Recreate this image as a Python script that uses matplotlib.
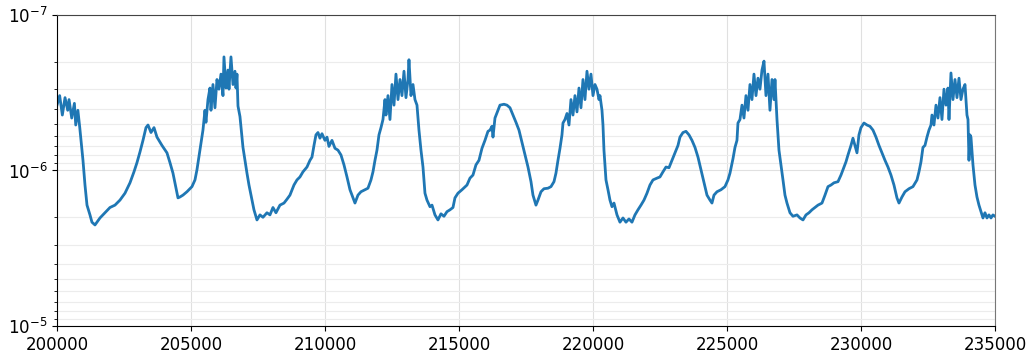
import numpy as np
import matplotlib
matplotlib.use('Agg')
import matplotlib.pyplot as plt

# sample index and measured level
steps = [
    200000, 200100, 200200, 200300, 200400, 200450, 200550, 200650, 200700, 200780,
    200850, 200970, 201045, 201120, 201231, 201305, 201418, 201490, 201604, 201790,
    201977, 202164, 202351, 202537, 202724, 202873, 202985, 203097, 203209, 203321,
    203396, 203508, 203620, 203731, 203918, 204104, 204216, 204328, 204440, 204515,
    204590, 204701, 204850, 205037, 205149, 205223, 205335, 205447, 205522, 205559,
    205634, 205708, 205746, 205820, 205895, 205970, 206044, 206119, 206194, 206231,
    206306, 206380, 206418, 206492, 206567, 206641, 206679, 206716, 206754, 206828,
    206940, 207015, 207089, 207164, 207276, 207350, 207462, 207574, 207686, 207835,
    207947, 208059, 208171, 208320, 208470, 208582, 208693, 208843, 208955, 209067,
    209179, 209328, 209440, 209515, 209590, 209664, 209739, 209813, 209888, 210000,
    210075, 210149, 210261, 210373, 210485, 210597, 210709, 210821, 210933, 211045,
    211119, 211231, 211343, 211492, 211604, 211716, 211791, 211866, 211940, 212015,
    212090, 212164, 212239, 212276, 212351, 212425, 212500, 212575, 212649, 212724,
    212799, 212873, 212948, 213022, 213097, 213134, 213209, 213284, 213358, 213433,
    213507, 213582, 213657, 213731, 213806, 213918, 213993, 214104, 214216, 214328,
    214440, 214552, 214664, 214776, 214850, 214962, 215112, 215299, 215410, 215522,
    215634, 215746, 215858, 215970, 216082, 216157, 216231, 216269, 216343, 216455,
    216530, 216679, 216791, 216903, 217015, 217127, 217239, 217351, 217463, 217575,
    217687, 217761, 217873, 217948, 218060, 218172, 218321, 218433, 218545, 218619,
    218694, 218769, 218843, 218881, 218955, 219030, 219105, 219179, 219254, 219328,
    219403, 219478, 219552, 219627, 219701, 219776, 219851, 219925, 220000, 220075,
    220149, 220224, 220261, 220336, 220373, 220410, 220485, 220560, 220634, 220709,
    220784, 220896, 221007, 221119, 221231, 221343, 221455, 221567, 221679, 221791,
    221903, 222015, 222127, 222239, 222388, 222500, 222612, 222724, 222836, 222948,
    223060, 223172, 223246, 223358, 223470, 223582, 223694, 223806, 223918, 224030,
    224142, 224254, 224366, 224440, 224515, 224627, 224776, 224925, 225037, 225112,
    225224, 225299, 225373, 225410, 225485, 225560, 225634, 225709, 225784, 225858,
    225933, 226007, 226082, 226157, 226231, 226306, 226381, 226455, 226530, 226604,
    226679, 226754, 226791, 226866, 226940, 227015, 227090, 227164, 227239, 227351,
    227463, 227612, 227724, 227836, 227948, 228060, 228172, 228284, 228396, 228545,
    228657, 228769, 228881, 228993, 229142, 229254, 229328, 229440, 229515, 229627,
    229701, 229776, 229851, 229925, 230000, 230112, 230224, 230336, 230448, 230560,
    230672, 230784, 230896, 231007, 231119, 231231, 231343, 231418, 231530, 231642,
    231791, 231940, 232090, 232164, 232239, 232313, 232388, 232463, 232537, 232612,
    232649, 232724, 232799, 232873, 232948, 233022, 233097, 233172, 233246, 233284,
    233358, 233433, 233508, 233582, 233657, 233731, 233806, 233881, 233955, 233993,
    234030, 234067, 234104, 234179, 234254, 234328, 234403, 234478, 234552, 234627,
    234701, 234776, 234851, 234925, 235000,
]
level = [
    3.8e-7, 3.3e-7, 4.4e-7, 3.4e-7, 4.1e-7, 3.5e-7, 4.6e-7, 3.7e-7, 5.1e-7, 4.1e-7,
    5.3e-7, 8.6e-7, 1.24e-6, 1.67e-6, 1.93e-6, 2.15e-6, 2.24e-6, 2.15e-6, 2.02e-6, 1.87e-6,
    1.73e-6, 1.67e-6, 1.55e-6, 1.40e-6, 1.20e-6, 1.02e-6, 8.9e-7, 7.6e-7, 6.4e-7, 5.3e-7,
    5.1e-7, 5.7e-7, 5.3e-7, 6.1e-7, 6.9e-7, 7.7e-7, 8.9e-7, 1.04e-6, 1.30e-6, 1.50e-6,
    1.48e-6, 1.44e-6, 1.37e-6, 1.27e-6, 1.15e-6, 9.9e-7, 7.4e-7, 5.5e-7, 4.1e-7, 4.9e-7,
    3.5e-7, 2.95e-7, 4.1e-7, 2.8e-7, 3.95e-7, 2.6e-7, 3.0e-7, 2.4e-7, 3.3e-7, 1.86e-7,
    2.95e-7, 2.26e-7, 3.0e-7, 1.86e-7, 2.8e-7, 2.3e-7, 2.95e-7, 2.4e-7, 3.85e-7, 4.5e-7,
    7.1e-7, 8.6e-7, 1.04e-6, 1.24e-6, 1.55e-6, 1.79e-6, 2.08e-6, 1.93e-6, 2.0e-6, 1.87e-6,
    1.93e-6, 1.73e-6, 1.87e-6, 1.67e-6, 1.62e-6, 1.53e-6, 1.44e-6, 1.24e-6, 1.15e-6, 1.10e-6,
    1.02e-6, 9.5e-7, 8.6e-7, 8.2e-7, 6.9e-7, 5.9e-7, 5.7e-7, 6.2e-7, 5.8e-7, 6.4e-7,
    6.1e-7, 7.0e-7, 6.4e-7, 7.2e-7, 7.4e-7, 7.95e-7, 9.2e-7, 1.10e-6, 1.33e-6, 1.50e-6,
    1.62e-6, 1.44e-6, 1.37e-6, 1.33e-6, 1.30e-6, 1.15e-6, 1.02e-6, 8.6e-7, 7.4e-7, 5.9e-7,
    5.3e-7, 4.7e-7, 3.5e-7, 4.4e-7, 3.3e-7, 4.7e-7, 2.8e-7, 3.8e-7, 2.4e-7, 3.5e-7,
    2.6e-7, 3.3e-7, 2.3e-7, 3.4e-7, 2.6e-7, 1.94e-7, 3.3e-7, 2.8e-7, 3.5e-7, 3.8e-7,
    5.5e-7, 7.4e-7, 9.5e-7, 1.40e-6, 1.55e-6, 1.71e-6, 1.67e-6, 1.93e-6, 2.08e-6, 1.90e-6,
    1.97e-6, 1.84e-6, 1.79e-6, 1.73e-6, 1.50e-6, 1.40e-6, 1.33e-6, 1.24e-6, 1.12e-6, 1.07e-6,
    9.2e-7, 8.6e-7, 7.2e-7, 6.4e-7, 5.6e-7, 5.5e-7, 5.2e-7, 6.1e-7, 4.6e-7, 4.1e-7,
    3.8e-7, 3.75e-7, 3.8e-7, 3.95e-7, 4.4e-7, 4.9e-7, 5.5e-7, 6.6e-7, 7.95e-7, 9.5e-7,
    1.18e-6, 1.44e-6, 1.67e-6, 1.55e-6, 1.37e-6, 1.31e-6, 1.30e-6, 1.27e-6, 1.18e-6, 1.04e-6,
    8.6e-7, 7.2e-7, 5.9e-7, 4.95e-7, 4.7e-7, 4.3e-7, 5.1e-7, 3.5e-7, 4.4e-7, 3.3e-7,
    4.2e-7, 2.95e-7, 3.95e-7, 2.6e-7, 3.5e-7, 2.3e-7, 3.0e-7, 2.4e-7, 3.3e-7, 2.8e-7,
    3.0e-7, 3.5e-7, 3.3e-7, 4.1e-7, 5.1e-7, 7.4e-7, 1.15e-6, 1.33e-6, 1.55e-6, 1.71e-6,
    1.62e-6, 1.93e-6, 2.15e-6, 2.02e-6, 2.15e-6, 2.05e-6, 2.15e-6, 1.93e-6, 1.79e-6, 1.67e-6,
    1.55e-6, 1.40e-6, 1.24e-6, 1.15e-6, 1.12e-6, 1.10e-6, 1.02e-6, 9.5e-7, 9.6e-7, 8.6e-7,
    7.7e-7, 6.9e-7, 6.1e-7, 5.7e-7, 5.6e-7, 5.9e-7, 6.4e-7, 7.1e-7, 8.2e-7, 9.9e-7,
    1.20e-6, 1.44e-6, 1.55e-6, 1.62e-6, 1.44e-6, 1.37e-6, 1.33e-6, 1.27e-6, 1.15e-6, 1.04e-6,
    8.4e-7, 7.1e-7, 6.4e-7, 4.95e-7, 4.7e-7, 3.8e-7, 4.6e-7, 3.3e-7, 4.1e-7, 2.8e-7,
    3.5e-7, 2.4e-7, 3.3e-7, 2.55e-7, 3.0e-7, 2.26e-7, 1.98e-7, 3.3e-7, 2.4e-7, 4.1e-7,
    2.6e-7, 3.5e-7, 2.6e-7, 4.7e-7, 7.4e-7, 9.2e-7, 1.15e-6, 1.44e-6, 1.62e-6, 1.87e-6,
    1.97e-6, 1.93e-6, 2.02e-6, 2.08e-6, 1.93e-6, 1.87e-6, 1.79e-6, 1.73e-6, 1.67e-6, 1.62e-6,
    1.44e-6, 1.27e-6, 1.24e-6, 1.20e-6, 1.18e-6, 1.07e-6, 9.9e-7, 8.8e-7, 7.95e-7, 6.9e-7,
    6.2e-7, 6.9e-7, 7.7e-7, 5.9e-7, 5.3e-7, 4.95e-7, 5.1e-7, 5.2e-7, 5.5e-7, 6.1e-7,
    6.9e-7, 7.7e-7, 8.6e-7, 9.5e-7, 1.07e-6, 1.24e-6, 1.50e-6, 1.62e-6, 1.48e-6, 1.37e-6,
    1.31e-6, 1.27e-6, 1.15e-6, 1.02e-6, 8.8e-7, 7.1e-7, 6.9e-7, 6.1e-7, 5.5e-7, 5.1e-7,
    4.4e-7, 5.1e-7, 3.8e-7, 4.6e-7, 3.4e-7, 4.7e-7, 3.0e-7, 3.8e-7, 2.95e-7, 4.7e-7,
    2.36e-7, 3.5e-7, 2.6e-7, 3.4e-7, 2.55e-7, 3.5e-7, 3.0e-7, 2.8e-7, 4.4e-7, 4.7e-7,
    8.6e-7, 5.9e-7, 6.1e-7, 9.2e-7, 1.24e-6, 1.48e-6, 1.67e-6, 1.84e-6, 2.02e-6, 1.87e-6,
    2.02e-6, 1.93e-6, 2.02e-6, 1.93e-6, 1.97e-6,
]

plt.rcParams['font.size'] = 12

fig = plt.figure(figsize=(10.36, 3.56), dpi=100)
ax = fig.add_axes([0.055, 0.0843, 0.9054, 0.8736])

ax.plot(np.array(steps), np.array(level), color='#1f77b4', lw=2.0)
ax.set_yscale('log')
ax.set_ylim(1e-5, 1e-7)
ax.set_xlim(200000, 235000)
ax.grid(True, which='major', color='#e0e0e0', lw=0.8)
ax.grid(True, which='minor', axis='y', color='#ececec', lw=0.8)
ax.spines['top'].set_color('#444444')
ax.spines['right'].set_color('#777777')

fig.savefig('out.png', dpi=100)
